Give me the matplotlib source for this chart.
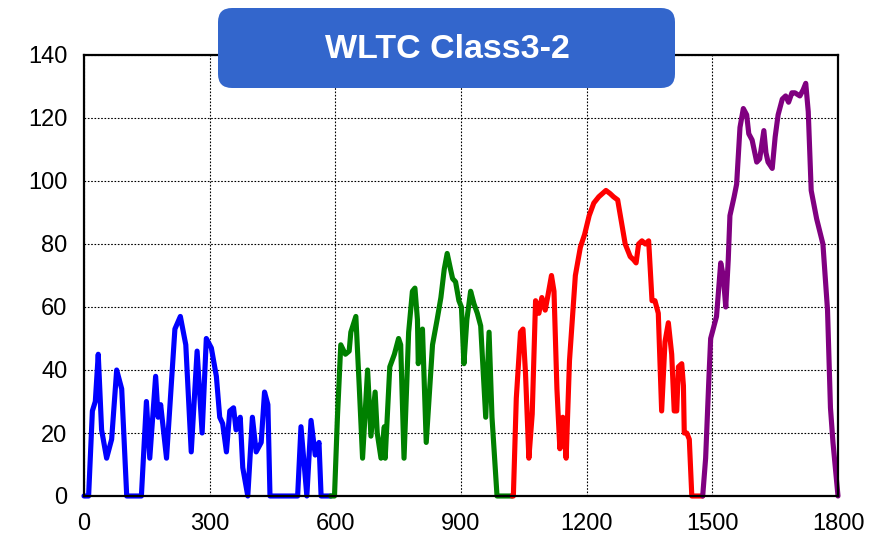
import matplotlib
matplotlib.use('Agg')
import matplotlib.pyplot as plt
import matplotlib.patches as mpatches
import matplotlib.transforms as mtransforms

plt.rcParams['font.family'] = ['Liberation Sans', 'DejaVu Sans']

# WLTC Class3-2 speed trace (time s, speed km/h)
low_t = [0, 11, 20, 27, 34, 42, 54, 66, 78, 90, 102, 137, 149, 157, 171, 177, 183, 197,
         217, 230, 243, 256, 270, 282, 292, 304, 316, 324, 331, 340, 348, 357, 363, 373,
         379, 391, 402, 411, 423, 431, 439, 444, 510, 518, 532, 542, 552, 561, 566, 589]
low_v = [0, 0, 27, 30, 45, 21, 12, 18, 40, 34, 0, 0, 30, 12, 38, 25, 29, 12,
         53, 57, 48, 14, 46, 20, 50, 47, 38, 25, 23, 14, 27, 28, 21, 25,
         9, 0, 25, 14, 17, 33, 29, 0, 0, 22, 0, 24, 13, 17, 0, 0]

mid_t = [589, 598, 605, 613, 624, 633, 637, 649, 657, 665, 677, 685, 695, 700, 709, 717,
         719, 730, 741, 751, 756, 764, 775, 784, 790, 796, 798, 808, 817, 832, 843, 852,
         860, 867, 875, 880, 887, 895, 901, 907, 914, 923, 931, 939, 947, 959, 967, 974,
         986, 1022]
mid_v = [0, 0, 25, 48, 45, 46, 52, 57, 35, 12, 40, 19, 33, 20, 12, 22,
         12, 41, 45, 50, 48, 12, 52, 65, 66, 56, 42, 53, 17, 48, 56, 63,
         72, 77, 72, 69, 68, 62, 60, 42, 56, 65, 61, 58, 54, 25, 52, 25,
         0, 0]

high_t = [1022, 1025, 1032, 1042, 1048, 1054, 1062, 1070, 1078, 1086, 1093, 1101, 1108,
          1116, 1122, 1129, 1136, 1143, 1151, 1159, 1173, 1185, 1195, 1206, 1217, 1229,
          1246, 1256, 1264, 1274, 1292, 1304, 1312, 1318, 1324, 1332, 1340, 1348, 1356,
          1363, 1371, 1379, 1387, 1395, 1403, 1409, 1415, 1419, 1427, 1431, 1433, 1439,
          1445, 1451, 1477]
high_v = [0, 0, 31, 52, 53, 39, 12, 26, 62, 58, 63, 59, 64,
          70, 65, 34, 15, 25, 12, 43, 70, 79, 83, 89, 93, 95,
          97, 96, 95, 94, 80, 76, 75, 74, 80, 81, 80, 81, 62,
          62, 58, 27, 49, 55, 45, 27, 27, 41, 42, 35, 20, 20,
          18, 0, 0]

xhigh_t = [1477, 1484, 1492, 1496, 1502, 1510, 1520, 1526, 1532, 1538, 1542, 1552, 1558,
           1566, 1574, 1582, 1587, 1595, 1606, 1613, 1623, 1628, 1633, 1643, 1650, 1657,
           1667, 1675, 1682, 1690, 1697, 1709, 1717, 1723, 1729, 1736, 1749, 1764, 1775,
           1782, 1788, 1800]
xhigh_v = [0, 12, 38, 50, 53, 57, 74, 70, 60, 75, 89, 95, 99,
           117, 123, 121, 115, 113, 106, 107, 116, 109, 106, 104, 114, 121,
           126, 127, 125, 128, 128, 127, 129, 131, 122, 97, 88, 80, 59,
           28, 17, 0]

x_ticks = [0, 300, 600, 900, 1200, 1500, 1800]
y_ticks = [0, 20, 40, 60, 80, 100, 120, 140]
title = 'WLTC Class3-2'

fig = plt.figure(figsize=(8.71, 5.38), dpi=100)
ax = fig.add_axes([84 / 871, 1 - 496 / 538, (838 - 84) / 871, (496 - 55) / 538])

phases = [(low_t, low_v, '#0000ff'), (mid_t, mid_v, '#008000'),
          (high_t, high_v, '#ff0000'), (xhigh_t, xhigh_v, '#800080')]
for t, v, c in phases:
    ax.plot(t, v, color=c, lw=3.7, solid_joinstyle='round', solid_capstyle='round',
            zorder=3, clip_on=False)

ax.set_xlim(0, 1800)
ax.set_ylim(0, 140)
ax.set_xticks(x_ticks)
ax.set_yticks(y_ticks)
ax.tick_params(length=0, labelsize=17, pad=12)
ax.grid(True, color='black', linestyle=(0, (1.5, 1.5)), lw=0.8)
for s in ax.spines.values():
    s.set_linewidth(1.6)
    s.set_zorder(4)

# title box in pixel coordinates
box = mpatches.FancyBboxPatch((218, 538 - 88), 457, 80,
                              boxstyle='round,pad=0,rounding_size=14',
                              transform=mtransforms.IdentityTransform(),
                              facecolor='#3366cc', edgecolor='none', zorder=10)
fig.add_artist(box)
fig.text(447 / 871, 1 - 50 / 538, title, color='white', fontsize=24.5, fontweight='bold',
         ha='center', va='center', zorder=11)

fig.savefig('out.png', dpi=100)
